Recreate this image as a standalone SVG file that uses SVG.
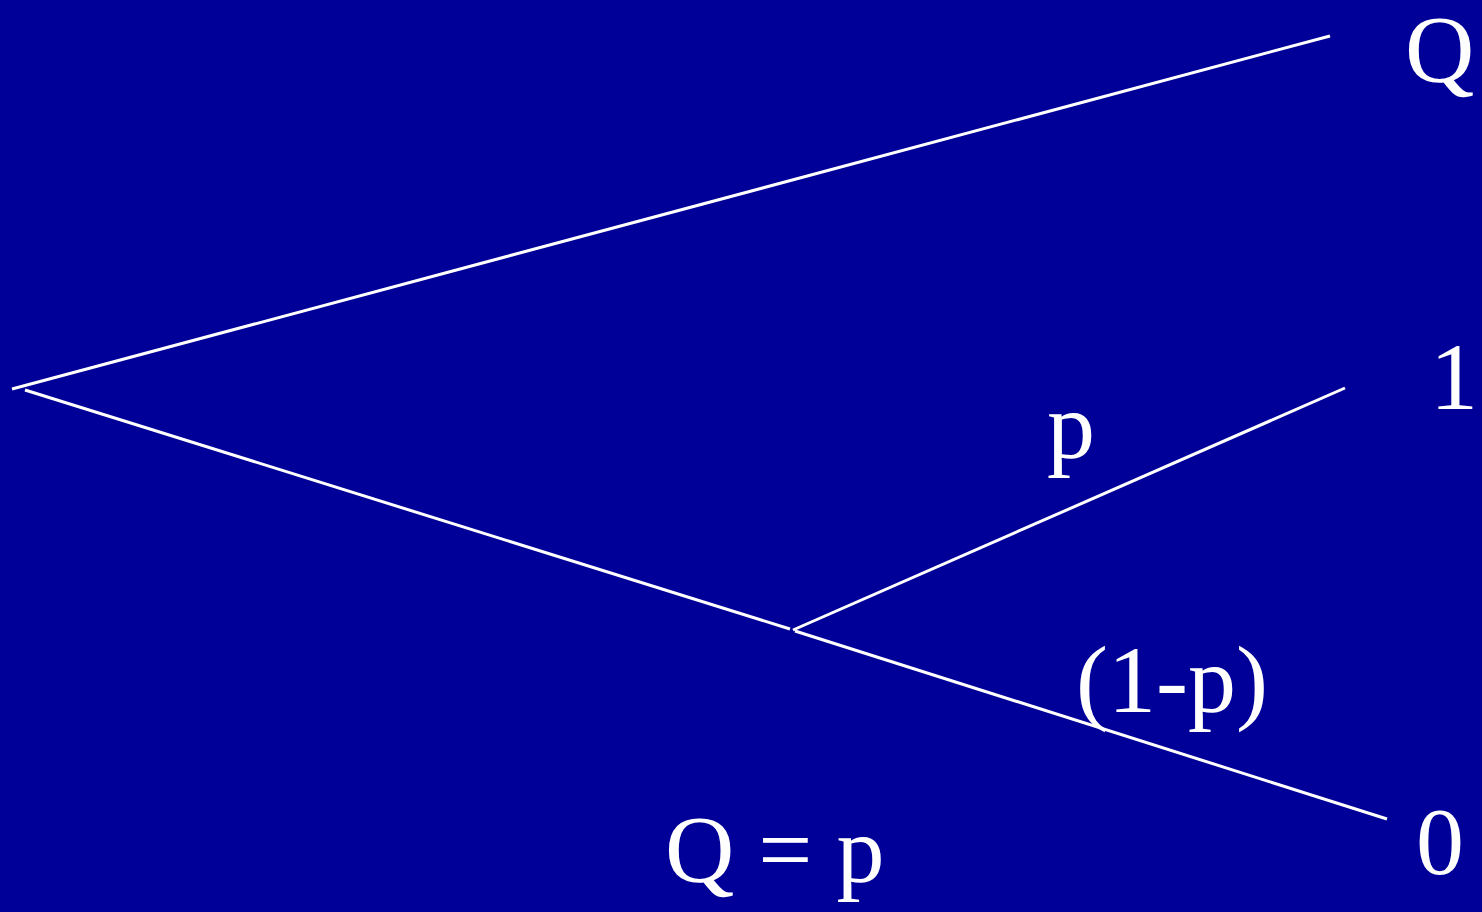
<svg xmlns="http://www.w3.org/2000/svg" width="1482" height="912" viewBox="0 0 1482 912">
<style>
.edge{stroke:#ffffff;stroke-width:3;fill:none}
text{fill:#ffffff;font-size:96px}
</style>
<rect x="0" y="0" width="1482" height="912" fill="#000099"/>
<g id="connectors">
<line class="edge" x1="12" y1="389" x2="1330" y2="36"/>
<line class="edge" x1="25" y1="390" x2="790" y2="629"/>
<line class="edge" x1="793" y1="630" x2="1345" y2="388"/>
<line class="edge" x1="795" y1="631" x2="1387" y2="819"/>
</g>
<g id="node-Q"><text font-family="Liberation Serif, serif" font-size="92" x="1405" y="82">Q</text></g>
<g id="node-1"><text font-family="Liberation Serif, serif" x="1430" y="409">1</text></g>
<g id="node-0"><text font-family="Liberation Serif, serif" x="1416" y="874">0</text></g>
<g id="label-p"><text font-family="Liberation Serif, serif" x="1047" y="458">p</text></g>
<g id="label-1-p"><text font-family="Liberation Serif, serif" x="1076" y="712">(1-p)</text></g>
<g id="label-eq"><text font-family="Liberation Serif, serif" x="665" y="882">Q = p</text></g>
</svg>
